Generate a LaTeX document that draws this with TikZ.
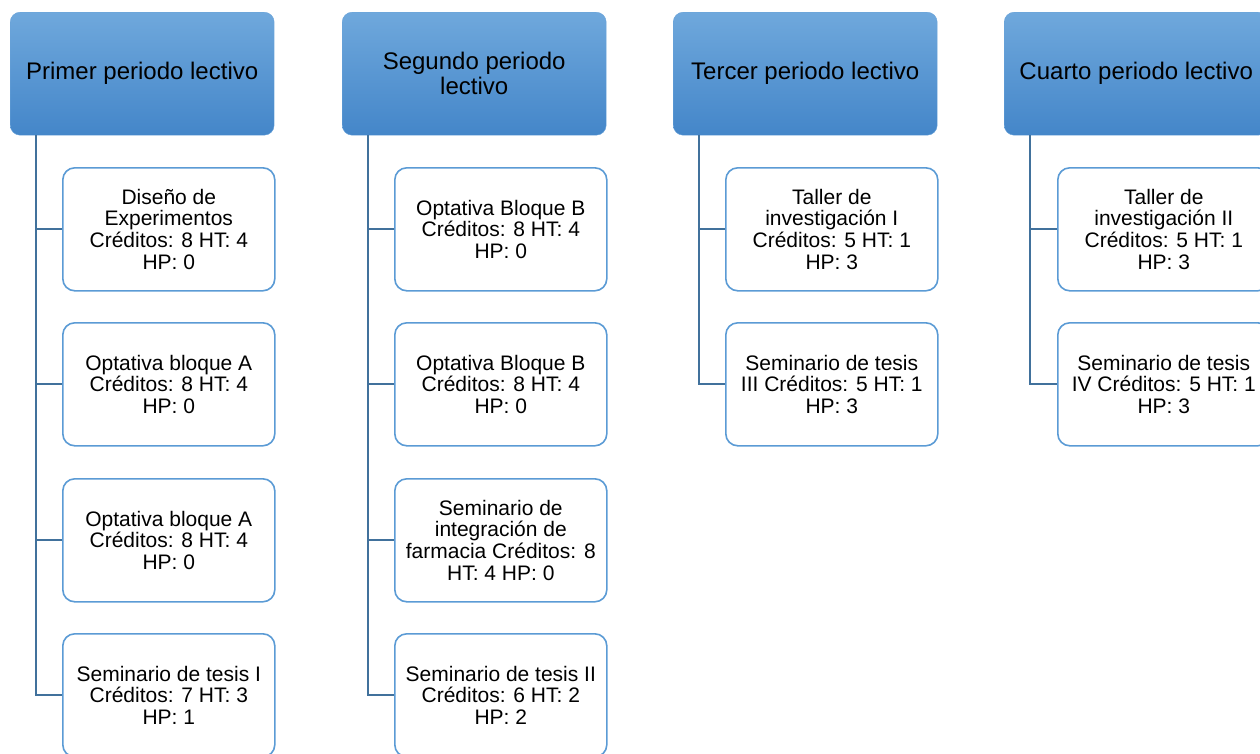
\documentclass[tikz,border=0pt]{standalone}
\usepackage{fontspec}
\setmainfont{Liberation Sans}
\definecolor{hdtop}{HTML}{6FA8DC}
\definecolor{hdbot}{HTML}{4486C9}
\definecolor{hdline}{HTML}{6AA3D9}
\definecolor{boxline}{HTML}{5B9BD5}
\definecolor{connline}{HTML}{41719C}
\begin{document}
\begin{tikzpicture}[x=1pt,y=-1pt,
 header/.style={rounded corners=10pt, top color=hdtop, bottom color=hdbot, draw=hdline, line width=0.4pt,
   minimum width=264pt, minimum height=123pt, anchor=north west, inner sep=0pt, align=center,
   font=\fontsize{24}{25}\selectfont},
 item/.style={rounded corners=12pt, draw=boxline, fill=white, line width=1.6pt,
   minimum width=212pt, minimum height=123pt, anchor=north west, inner sep=0pt, align=center,
   font=\fontsize{21}{21.7}\selectfont},
 conn/.style={draw=connline, line width=1.8pt}
]
\useasboundingbox (0,0) rectangle (1260,753);
% headers
\node[header] (h1) at (10,12) {Primer periodo lectivo};
\node[header] (h2) at (342,12) {Segundo periodo\\lectivo};
\node[header] (h3) at (673,12) {Tercer periodo lectivo};
\node[header] (h4) at (1004,12) {Cuarto periodo lectivo};
% column 1
\node[item] (c11) at (62,167) {Diseño de\\Experimentos\\Créditos: 8 HT: 4\\HP: 0};
\node[item] (c12) at (62,322) {Optativa bloque A\\Créditos: 8 HT: 4\\HP: 0};
\node[item] (c13) at (62,478) {Optativa bloque A\\Créditos: 8 HT: 4\\HP: 0};
\node[item] (c14) at (62,633) {Seminario de tesis I\\Créditos: 7 HT: 3\\HP: 1};
% column 2
\node[item] (c21) at (394,167) {Optativa Bloque B\\Créditos: 8 HT: 4\\HP: 0};
\node[item] (c22) at (394,322) {Optativa Bloque B\\Créditos: 8 HT: 4\\HP: 0};
\node[item] (c23) at (394,478) {Seminario de\\integración de\\farmacia Créditos: 8\\HT: 4 HP: 0};
\node[item] (c24) at (394,633) {Seminario de tesis II\\Créditos: 6 HT: 2\\HP: 2};
% column 3
\node[item] (c31) at (725,167) {Taller de\\investigación I\\Créditos: 5 HT: 1\\HP: 3};
\node[item] (c32) at (725,322) {Seminario de tesis\\III Créditos: 5 HT: 1\\HP: 3};
% column 4
\node[item] (c41) at (1057,167) {Taller de\\investigación II\\Créditos: 5 HT: 1\\HP: 3};
\node[item] (c42) at (1057,322) {Seminario de tesis\\IV Créditos: 5 HT: 1\\HP: 3};
% connectors
\foreach \h/\c in {h1/c11,h1/c12,h1/c13,h1/c14,h2/c21,h2/c22,h2/c23,h2/c24,h3/c31,h3/c32,h4/c41,h4/c42}{
  \draw[conn] ([xshift=26pt]\h.south west) |- (\c.west);
}
\end{tikzpicture}
\end{document}
